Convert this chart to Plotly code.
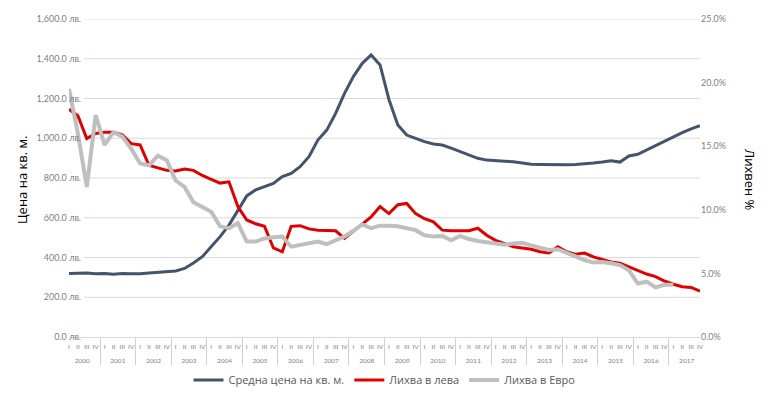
import plotly.graph_objects as go

years = [str(y) for y in range(2000, 2018)]
quarters = ["I", "II", "III", "IV"]

price = [
    320, 320, 322, 318,
    320, 316, 320, 318,
    318, 322, 326, 328,
    332, 345, 372, 404,
    454, 505, 563, 640,
    710, 740, 756, 773,
    807, 823, 857, 907,
    991, 1041, 1125, 1226,
    1310, 1377, 1419, 1369,
    1195, 1067, 1016, 1000,
    983, 971, 966, 950,
    933, 915, 899, 890,
    886, 884, 882, 875,
    869, 868, 867, 867,
    867, 868, 870, 875,
    880, 887, 880, 911,
    919, 941, 961, 983,
    1008, 1028, 1047, 1063,
]

rate_bgn = [
    17.9, 17.4, 15.6, 16.0,
    16.1, 16.1, 15.9, 15.2,
    15.1, 13.5, 13.3, 13.1,
    13.05, 13.2, 13.1, 12.7,
    12.4, 12.1, 12.2, 10.25,
    9.2, 8.9, 8.7, 7.0,
    6.7, 8.7, 8.75, 8.5,
    8.4, 8.35, 8.35, 7.75,
    8.3, 8.9, 9.45, 10.25,
    9.7, 10.4, 10.5, 9.7,
    9.3, 9.05, 8.4, 8.36,
    8.35, 8.35, 8.55, 8.0,
    7.6, 7.35, 7.1, 7.0,
    6.9, 6.7, 6.6, 7.1,
    6.7, 6.5, 6.6, 6.3,
    6.1, 5.9, 5.8, 5.5,
    5.2, 4.95, 4.75, 4.4,
    4.15, 3.95, 3.9, 3.6,
]

rate_eur = [
    19.5, 16.0, 11.8, 17.45,
    15.1, 16.1, 15.75, 14.8,
    13.65, 13.5, 14.25, 13.9,
    12.3, 11.8, 10.6, 10.25,
    9.85, 8.7, 8.55, 8.95,
    7.5, 7.5, 7.75, 7.85,
    7.9, 7.1, 7.25, 7.4,
    7.5, 7.3, 7.6, 7.9,
    8.35, 8.85, 8.55, 8.75,
    8.75, 8.7, 8.55, 8.4,
    8.0, 7.9, 7.95, 7.6,
    7.95, 7.7, 7.55, 7.45,
    7.3, 7.25, 7.35, 7.4,
    7.2, 7.0, 6.85, 6.9,
    6.6, 6.3, 6.05, 5.85,
    5.9, 5.8, 5.65, 5.25,
    4.2, 4.35, 3.9, 4.1,
    4.1, None, None, None,
]

price_ticks = [0, 200, 400, 600, 800, 1000, 1200, 1400, 1600]
rate_ticks = [0, 5, 10, 15, 20, 25]
price_ticktext = [f"{v:,.1f} лв." for v in price_ticks]
rate_ticktext = [f"{v:.1f}%" for v in rate_ticks]

# inner labels get an empty second line so the year row sits lower
x_outer = [y for y in years for _ in quarters]
x_inner = [q + "<br>\u00a0" for _ in years for q in quarters]
x = [x_outer, x_inner]

# the page body adds an 8px offset, so the figure is drawn 8px smaller
OFF = 8
W, H = 768 - OFF, 394 - OFF
ML, MR, MT, MB = 69 - OFF, 68, 19 - OFF, 57
plot_w = W - ML - MR
plot_h = H - MT - MB


def px_x(p):
    return (p - OFF - ML) / plot_w


def px_y(p):
    return (H - MB - (p - OFF)) / plot_h


fig = go.Figure()
fig.add_trace(go.Scatter(x=x, y=price, name="Средна цена на кв. м.", mode="lines",
                         line=dict(color="#44546A", width=3), yaxis="y"))
fig.add_trace(go.Scatter(x=x, y=rate_bgn, name="Лихва в лева", mode="lines",
                         line=dict(color="#E00000", width=3), yaxis="y2"))
fig.add_trace(go.Scatter(x=x, y=rate_eur, name="Лихва в Евро", mode="lines",
                         line=dict(color="#BFBFBF", width=4), yaxis="y2"))

# horizontal gridlines (start right of the overlapping tick labels)
for v in price_ticks[1:]:
    fig.add_shape(type="line", xref="paper", yref="y", x0=px_x(84), x1=1, y0=v, y1=v,
                  line=dict(color="#D9D9D9", width=1), layer="below")

# right border line of the picture
fig.add_shape(type="line", xref="paper", yref="paper",
              x0=px_x(766.5), x1=px_x(766.5), y0=px_y(394), y1=px_y(0),
              line=dict(color="#7F7F7F", width=1))

tick_font = dict(family="Lato, sans-serif", size=9, color="#7F7F7F")
title_font = dict(family="Open Sans, sans-serif", size=13, color="#000000")

fig.update_layout(
    width=W, height=H,
    margin=dict(l=ML, r=MR, t=MT, b=MB, autoexpand=False),
    paper_bgcolor="white", plot_bgcolor="white",
    font=dict(family="Open Sans, sans-serif", color="#595959"),
    showlegend=True,
    legend=dict(orientation="h", x=0.5, xanchor="center", y=px_y(380), yanchor="middle",
                font=dict(size=11, color="#595959"), itemwidth=30,
                bgcolor="rgba(0,0,0,0)"),
    xaxis=dict(
        type="multicategory", automargin=False,
        tickfont=dict(family="Lato, sans-serif", size=6.5, color="#7F7F7F"),
        tickangle=0,
        showline=True, linecolor="#D9D9D9", linewidth=1,
        showgrid=False, ticks="", ticklabelstandoff=3,
        dividercolor="#D0D0D0", dividerwidth=1,
    ),
    yaxis=dict(
        automargin=False,
        range=[0, 1600], tickvals=price_ticks, ticktext=price_ticktext,
        showgrid=False, zeroline=False, showline=False, ticks="",
        tickfont=tick_font, ticklabelstandoff=-13,
    ),
    yaxis2=dict(
        automargin=False,
        range=[0, 25], tickvals=rate_ticks, ticktext=rate_ticktext,
        overlaying="y", side="right", showgrid=False, zeroline=False, showline=False,
        ticks="", tickfont=tick_font, ticklabelstandoff=0,
    ),
    annotations=[
        dict(text="Цена на кв. м.", textangle=-90, xref="paper", yref="paper",
             x=px_x(22), y=px_y(180),
             xanchor="center", yanchor="middle", showarrow=False, font=title_font),
        dict(text="Лихвен %", textangle=90, xref="paper", yref="paper",
             x=px_x(750), y=px_y(180),
             xanchor="center", yanchor="middle", showarrow=False, font=title_font),
    ],
)

fig.write_html("out.html")
